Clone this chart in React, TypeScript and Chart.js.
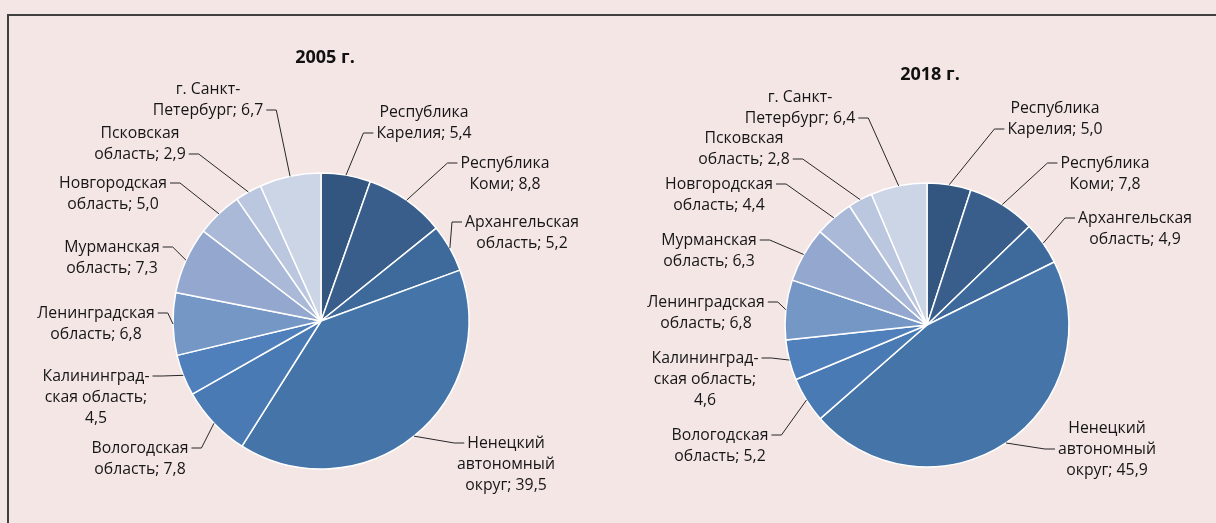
import React, { useEffect, useRef } from "react";
import { Chart, registerables } from "chart.js";

Chart.register(...registerables);

// ---- data ----
const categoryLines: string[][] = [
  ["Республика", "Карелия"],
  ["Республика", "Коми"],
  ["Архангельская", "область"],
  ["Ненецкий", "автономный", "округ"],
  ["Вологодская", "область"],
  ["Калининград-", "ская область", ""],
  ["Ленинградская", "область"],
  ["Мурманская", "область"],
  ["Новгородская", "область"],
  ["Псковская", "область"],
  ["г. Санкт-", "Петербург"],
];
const categories: string[] = categoryLines.map((l) => l.join(" ").trim());

const values2005: number[] = [5.4, 8.8, 5.2, 39.5, 7.8, 4.5, 6.8, 7.3, 5.0, 2.9, 6.7];
const values2018: number[] = [5.0, 7.8, 4.9, 45.9, 5.2, 4.6, 6.8, 6.3, 4.4, 2.8, 6.4];

const title2005 = "2005 г.";
const title2018 = "2018 г.";

// ---- styles / layout ----
const sliceColors: string[] = [
  "#32567F",
  "#3A5E8C",
  "#3E699B",
  "#4574A8",
  "#4A7AB4",
  "#4F80BC",
  "#7597C6",
  "#94A8CF",
  "#A9B9D7",
  "#BBC7DF",
  "#CCD5E6",
];

// label offsets (center x of label, y of first line) relative to pie centre
const labelOffsets2005: number[][] = [
  [103, -209], [184, -158], [201, -99], [185, 122], [-181, 127], [-225, 55],
  [-225, -8], [-209, -74], [-208, -138], [-181, -188], [-113, -232],
];
const attachLine2005: number[] = [1, 0, 0, 0, 0, 0, 0, 0, 0, 1, 1];

const labelOffsets2018: number[][] = [
  [128, -217], [178, -162], [208, -107], [180, 103], [-207, 110], [-222, 33],
  [-221, -23], [-218, -85], [-208, -141], [-183, -187], [-127, -228],
];
const attachLine2018: number[] = [1, 0, 0, 1, 0, 0, 0, 0, 0, 1, 1];

const W = 1216;
const H = 523;
const FONT = '"Open Sans", "Noto Sans", sans-serif';

function fmt(v: number): string {
  return v.toFixed(1).replace(".", ",");
}

function buildLines(i: number, v: number): string[] {
  const lines = [...categoryLines[i]];
  if (lines[lines.length - 1] === "") {
    lines[lines.length - 2] += ";";
    lines[lines.length - 1] = fmt(v);
  } else {
    lines[lines.length - 1] += "; " + fmt(v);
  }
  return lines;
}

const outLabelsPlugin = {
  id: "outLabels",
  afterDraw(chart: any) {
    const cfg = chart.options.plugins.outLabels;
    if (!cfg) return;
    const ctx: CanvasRenderingContext2D = chart.ctx;
    const meta = chart.getDatasetMeta(0);
    const data: number[] = chart.data.datasets[0].data;
    const lineH = 21;
    ctx.save();
    let cx0 = 0;
    let cy0 = 0;
    meta.data.forEach((arc: any, i: number) => {
      const p = arc.getProps(["x", "y", "startAngle", "endAngle", "outerRadius"], true);
      cx0 = p.x;
      cy0 = p.y;
      const mid = (p.startAngle + p.endAngle) / 2;
      const ax = p.x + Math.cos(mid) * p.outerRadius;
      const ay = p.y + Math.sin(mid) * p.outerRadius;
      const lines = buildLines(i, data[i]);
      const [dx, dy] = cfg.offsets[i];
      const lx = p.x + dx;
      const ly = p.y + dy;
      ctx.font = `15.8px ${FONT}`;
      ctx.fillStyle = "#161616";
      ctx.textAlign = "center";
      ctx.textBaseline = "middle";
      lines.forEach((t, k) => ctx.fillText(t, lx, ly + k * lineH));
      const k = cfg.attach[i];
      const w = ctx.measureText(lines[k]).width;
      const ty = ly + k * lineH;
      const right = dx > 0;
      const tickEnd = right ? lx - w / 2 - 3 : lx + w / 2 + 3;
      const tickStart = right ? tickEnd - 10 : tickEnd + 10;
      ctx.beginPath();
      ctx.strokeStyle = "#262626";
      ctx.lineWidth = 1;
      ctx.moveTo(ax, ay);
      ctx.lineTo(tickStart, ty);
      ctx.lineTo(tickEnd, ty);
      ctx.stroke();
    });
    ctx.font = `bold 18px ${FONT}`;
    ctx.fillStyle = "#111";
    ctx.textAlign = "center";
    ctx.textBaseline = "middle";
    ctx.fillText(cfg.title, cx0 + cfg.titleDx, cy0 + cfg.titleDy);
    ctx.restore();
  },
};

function makeChart(
  canvas: HTMLCanvasElement,
  values: number[],
  padding: { left: number; right: number; top: number; bottom: number },
  radius: number,
  plug: any
) {
  return new Chart(canvas, {
    type: "pie",
    data: {
      labels: categories,
      datasets: [
        {
          data: values,
          backgroundColor: sliceColors,
          borderColor: "#ffffff",
          borderWidth: 1.5,
        },
      ],
    },
    options: {
      responsive: false,
      animation: false,
      events: [],
      radius,
      layout: { padding },
      plugins: {
        legend: { display: false },
        tooltip: { enabled: false },
        outLabels: plug,
      } as any,
    },
    plugins: [outLabelsPlugin],
  });
}

export default function App() {
  const ref1 = useRef<HTMLCanvasElement>(null);
  const ref2 = useRef<HTMLCanvasElement>(null);

  useEffect(() => {
    // pie 1: centre (321,321), r=148 ; pie 2: centre (927,325), r=142
    const c1 = makeChart(
      ref1.current!,
      values2005,
      { left: 171, right: W - 471, top: 171, bottom: H - 471 },
      148,
      { title: title2005, titleDx: 4, titleDy: -263, offsets: labelOffsets2005, attach: attachLine2005 }
    );
    const c2 = makeChart(
      ref2.current!,
      values2018,
      { left: 777, right: W - 1077, top: 175, bottom: H - 475 },
      142,
      { title: title2018, titleDx: 3, titleDy: -250, offsets: labelOffsets2018, attach: attachLine2018 }
    );
    return () => {
      c1.destroy();
      c2.destroy();
    };
  }, []);

  const canvasStyle: React.CSSProperties = {
    position: "absolute",
    left: 0,
    top: 0,
    width: W,
    height: H,
  };

  return (
    <div
      style={{
        position: "fixed",
        left: 0,
        top: 0,
        width: W,
        height: H,
        background: "#F5E6E6",
        overflow: "hidden",
      }}
    >
      <div
        style={{
          position: "absolute",
          left: 7,
          top: 14,
          width: W + 100,
          height: H + 100,
          borderLeft: "2px solid #404040",
          borderTop: "2px solid #404040",
        }}
      />
      <canvas ref={ref1} width={W} height={H} style={canvasStyle} />
      <canvas ref={ref2} width={W} height={H} style={canvasStyle} />
    </div>
  );
}
